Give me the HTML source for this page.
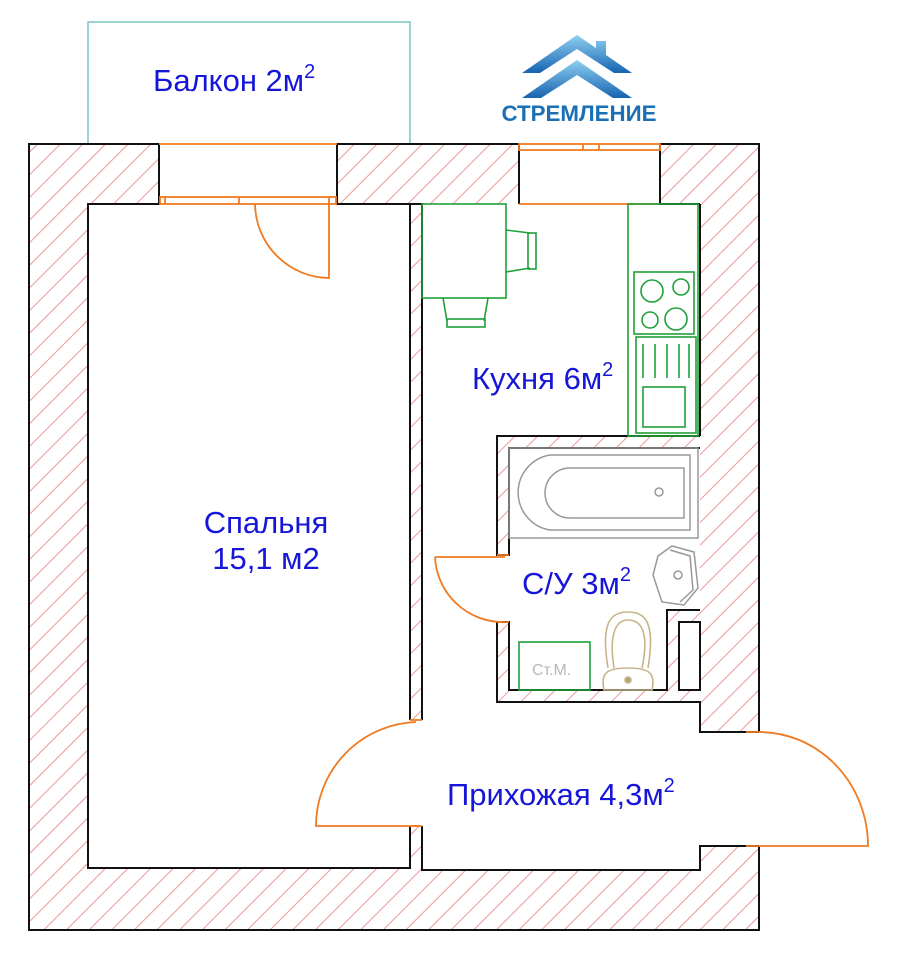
<!DOCTYPE html>
<html><head><meta charset="utf-8"><style>
html,body{margin:0;padding:0;background:#fff;width:914px;height:960px;overflow:hidden}
svg{display:block}
.lb{font-family:"Liberation Sans",sans-serif;fill:#1616d8;font-size:31px}
</style></head><body>
<svg width="914" height="960" viewBox="0 0 914 960" xmlns="http://www.w3.org/2000/svg">
<defs>
<pattern id="h" patternUnits="userSpaceOnUse" width="16" height="16" patternTransform="rotate(45)">
<line x1="0" y1="0" x2="0" y2="16" stroke="#e99a9a" stroke-width="2"/>
</pattern>
<linearGradient id="g" x1="0" y1="0" x2="0" y2="1"><stop offset="0" stop-color="#8fd0f2"/><stop offset="1" stop-color="#1664b0"/></linearGradient>
</defs>
<rect x="88" y="22" width="322" height="122" fill="none" stroke="#7cc4c4" stroke-width="1.5"/>
<rect x="29" y="144" width="730" height="786" fill="url(#h)"/>
<g fill="#fff">
<rect x="159" y="143" width="178" height="61"/>
<rect x="519" y="143" width="141" height="61"/>
<rect x="88" y="204" width="322" height="664"/>
<rect x="422" y="204" width="278" height="232"/>
<rect x="422" y="436" width="75" height="267"/>
<rect x="422" y="702" width="278" height="168"/>
<rect x="509" y="448" width="191" height="162"/>
<rect x="509" y="610" width="158" height="80"/>
<rect x="679" y="622" width="21" height="68"/>
<rect x="410" y="720" width="12" height="106"/>
<rect x="497" y="555" width="12" height="67"/>
<rect x="699" y="732" width="61" height="114"/>
<rect x="758" y="700" width="6" height="240" />
</g>
<g fill="none" stroke="#111" stroke-width="2">
<path d="M159,144 H29 V930 H759 V846 M759,732 V144 H660 V204 H700"/>
<path d="M337,144 H519 M337,144 V204 H422 V720 M519,144 V204 M159,144 V204 H88 V868 H410 V826 M410,720 V204"/>
<path d="M422,826 V870 H700 V846 H759 M759,732 H700 V702 H497 V622 H509 V690 H667 V610 H700 M700,448 H509 V555 H497 V436 H700"/>
<rect x="679" y="622" width="21" height="68"/>
<path d="M700,204 V436"/>
</g>
<g fill="none" stroke="#f07a20" stroke-width="1.8">
<line x1="159" y1="144" x2="337" y2="144"/>
<rect x="160" y="197" width="176" height="7"/>
<line x1="165" y1="197" x2="165" y2="204"/><line x1="239" y1="197" x2="239" y2="204"/><line x1="329" y1="197" x2="329" y2="204"/>
<path d="M255,204 A75,75 0 0 0 329,278 V204"/>
<rect x="519" y="144" width="141" height="6"/>
<line x1="583" y1="144" x2="583" y2="150"/><line x1="599" y1="144" x2="599" y2="150"/>
<line x1="519" y1="204" x2="660" y2="204"/>
<path d="M416,722 A104,104 0 0 0 316,826 H420"/>
<path d="M410,720 h12 M410,826 h12"/>
<path d="M435,557 H505 M435,557 A68,68 0 0 0 503,622"/>
<path d="M497,555 h12 M497,622 h12"/>
<path d="M746,732 H760 M746,846 H868 A109,114 0 0 0 759,732"/>
</g>
<g fill="none" stroke="#1fa03a" stroke-width="1.6">
<rect x="422" y="204" width="84" height="94"/>
<path d="M506,230 L530,233 M506,272 L530,268"/>
<rect x="528" y="233" width="8" height="36"/>
<path d="M443,298 L447,321 M488,298 L484,321"/>
<rect x="447" y="319" width="38" height="8"/>
<rect x="628" y="204" width="70" height="232"/>
<rect x="634" y="272" width="60" height="62"/>
<circle cx="652" cy="291" r="11"/><circle cx="681" cy="287" r="8"/>
<circle cx="650" cy="320" r="8"/><circle cx="676" cy="319" r="11"/>
<rect x="636" y="337" width="60" height="96"/>
<path d="M643,344 V378 M655,344 V378 M667,344 V378 M679,344 V378 M689,344 V378"/>
<rect x="643" y="387" width="42" height="40"/>
<rect x="519" y="642" width="71" height="48"/>
</g>
<g fill="none" stroke="#999" stroke-width="1.5">
<path d="M550,455 H690 V530 H550 A38,38 0 0 1 550,455 Z"/>
<path d="M570,468 H684 V518 H570 A25,25 0 0 1 570,468 Z"/>
<rect x="509" y="448" width="189" height="90"/>
<path d="M672,546 L694,552 L698,588 L684,605 L662,602 L653,575 L658,556 Z"/>
<path d="M670,550 L690,556 L693,590 L680,602"/>
<circle cx="678" cy="575" r="4"/>
<circle cx="659" cy="492" r="4"/>
</g>
<g fill="none" stroke="#c8b48a" stroke-width="1.6">
<path d="M608,668 C600,620 612,612 628,612 C644,612 656,620 648,668"/>
<path d="M614,668 C608,630 618,620 628,620 C640,620 650,630 642,668"/>
<path d="M604,690 C600,672 608,668 628,668 C648,668 656,672 652,690 Z"/>
<circle cx="628" cy="680" r="3" fill="#b8a070"/>
</g>
<text x="532" y="675" font-family="Liberation Sans,sans-serif" font-size="16" fill="#b8b8b8">Ст.М.</text>
<text class="lb" x="153" y="91">Балкон 2м<tspan font-size="20" dy="-13">2</tspan></text>
<text class="lb" x="266" y="533" text-anchor="middle">Спальня</text>
<text class="lb" x="266" y="569" text-anchor="middle">15,1 м2</text>
<text class="lb" x="472" y="389">Кухня 6м<tspan font-size="20" dy="-13">2</tspan></text>
<text class="lb" x="522" y="594">С/У 3м<tspan font-size="20" dy="-13">2</tspan></text>
<text class="lb" x="447" y="805">Прихожая 4,3м<tspan font-size="20" dy="-13">2</tspan></text>
<path d="M522,73 L577,35 L596,48 V41 H606 V55 L632,73 H614 L577,49 L540,73 Z" fill="url(#g)"/>
<path d="M522,98 L577,60 L632,98 H613 L577,75 L541,98 Z" fill="url(#g)"/>
<text x="579" y="121" text-anchor="middle" font-family="Liberation Sans,sans-serif" font-weight="bold" font-size="22" fill="#1a6fb5" textLength="155" lengthAdjust="spacingAndGlyphs">СТРЕМЛЕНИЕ</text>
</svg>
</body></html>
